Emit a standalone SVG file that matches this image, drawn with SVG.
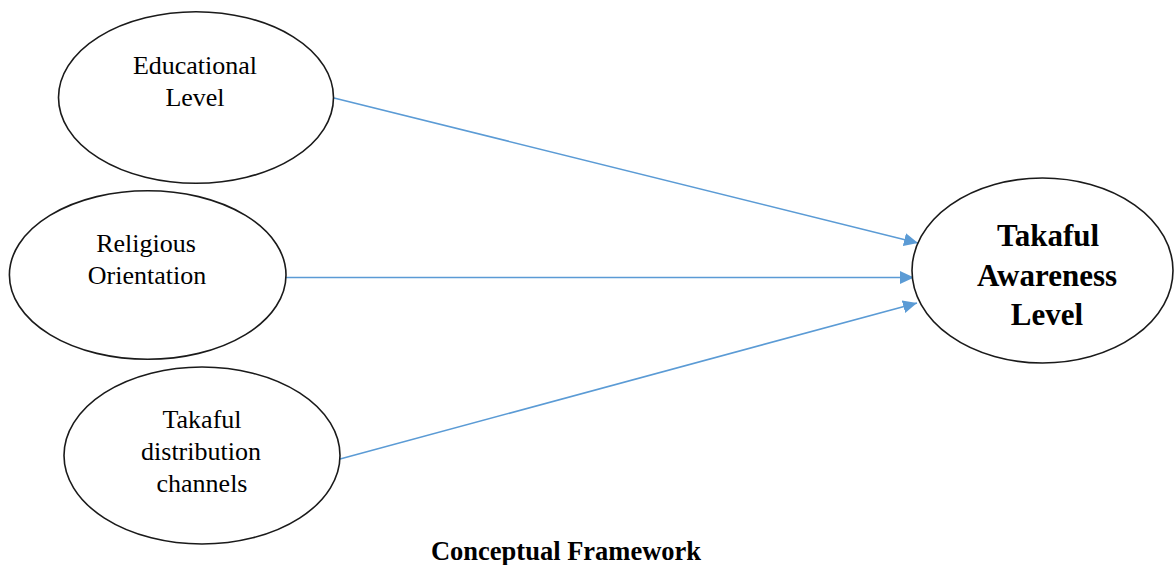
<svg xmlns="http://www.w3.org/2000/svg" width="1175" height="565" viewBox="0 0 1175 565">
<style>
.node ellipse{fill:#fff;stroke:#1a1a1a;stroke-width:1.6}
.t{font-family:"Liberation Serif","Times New Roman",serif;font-size:26px;fill:#000;text-anchor:middle}
.tb{font-family:"Liberation Serif","Times New Roman",serif;font-size:31px;font-weight:bold;fill:#000;text-anchor:middle}
.cap{font-family:"Liberation Serif","Times New Roman",serif;font-size:26.5px;font-weight:bold;fill:#000;text-anchor:middle}
.edge{stroke:#5B9BD5;stroke-width:1.6;fill:none;marker-end:url(#arr)}
</style>
<defs>
<marker id="arr" markerUnits="userSpaceOnUse" markerWidth="14" markerHeight="13" refX="14" refY="6.5" orient="auto">
<path d="M0,0 L14,6.5 L0,13 z" fill="#5B9BD5"/>
</marker>
</defs>
<rect width="1175" height="565" fill="#fff"/>
<g id="connectors">
<line class="edge" x1="334" y1="98" x2="918" y2="243"/>
<line class="edge" x1="286" y1="277.5" x2="914" y2="277.5"/>
<line class="edge" x1="340" y1="459" x2="917" y2="303"/>
</g>
<g id="educational" class="node">
<ellipse cx="196" cy="97.5" rx="137.5" ry="85.8"/>
<text class="t" x="195" y="74">Educational</text>
<text class="t" x="195" y="106">Level</text>
</g>
<g id="religious" class="node">
<ellipse cx="147.7" cy="275" rx="138.3" ry="84.3"/>
<text class="t" x="146" y="252">Religious</text>
<text class="t" x="147" y="284">Orientation</text>
</g>
<g id="distribution" class="node">
<ellipse cx="202" cy="455.5" rx="138" ry="88.5"/>
<text class="t" x="202" y="428">Takaful</text>
<text class="t" x="201" y="460">distribution</text>
<text class="t" x="202" y="492">channels</text>
</g>
<g id="awareness" class="node">
<ellipse cx="1042.5" cy="270.5" rx="130.5" ry="92.5"/>
<text class="tb" x="1048" y="246">Takaful</text>
<text class="tb" x="1047" y="286">Awareness</text>
<text class="tb" x="1047" y="325">Level</text>
</g>
<text id="caption" class="cap" x="566" y="560">Conceptual Framework</text>
</svg>
